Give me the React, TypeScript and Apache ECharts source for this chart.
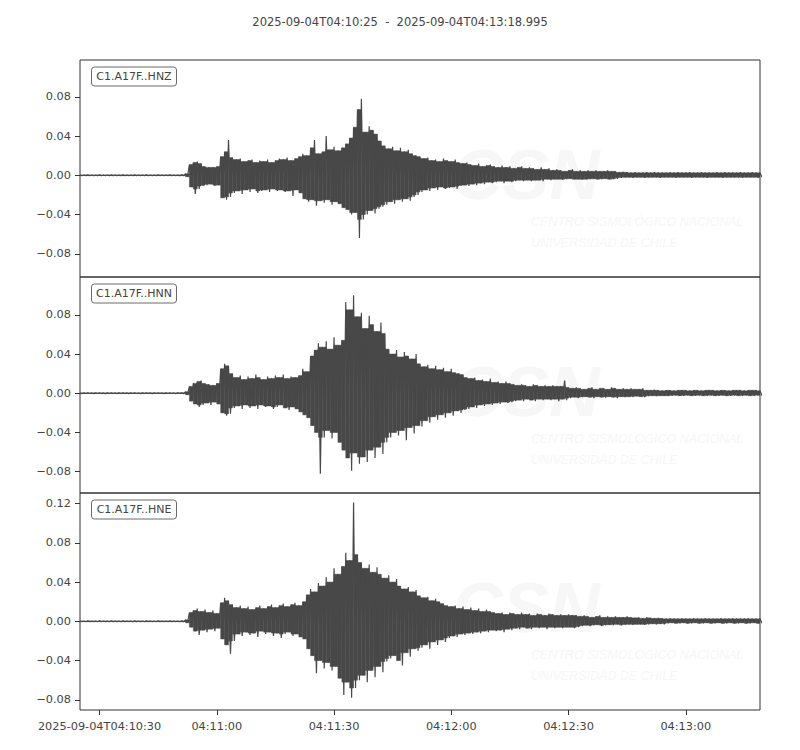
import React, { useEffect, useRef } from "react";
import * as echarts from "echarts";

// ---------- data ----------
const TITLE = "2025-09-04T04:10:25  -  2025-09-04T04:13:18.995";
const TRACE_NAMES = ["C1.A17F..HNZ", "C1.A17F..HNN", "C1.A17F..HNE"];
const DURATION_S = 173.995; // seconds after 04:10:25
const X_TICK_SECONDS = [5, 35, 65, 95, 125, 155];
const X_TICK_LABELS = [
  "2025-09-04T04:10:30",
  "04:11:00",
  "04:11:30",
  "04:12:00",
  "04:12:30",
  "04:13:00",
];
const Y_TICKS_HNZ = [-0.08, -0.04, 0, 0.04, 0.08];
const Y_TICKS_HNN = [-0.08, -0.04, 0, 0.04, 0.08];
const Y_TICKS_HNE = [-0.08, -0.04, 0, 0.04, 0.08, 0.12];
const Y_RANGE_HNZ = [-0.1037, 0.1175];
const Y_RANGE_HNN = [-0.1017, 0.1185];
const Y_RANGE_HNE = [-0.0904, 0.1308];

// Envelope of each trace, one (max, min) pair per second from 04:10:25, in units of 1e-3
const HNZ_MAX = [
  0.3, 0.3, 0.4, 0.3, 0.3, 0.4, 0.3, 0.3, 0.4, 0.3,
  0.3, 0.4, 0.3, 0.3, 0.4, 0.3, 0.3, 0.4, 0.3, 0.3,
  0.4, 0.3, 0.3, 0.4, 0.3, 0.3, 0.4, 1.5, 11, 13,
  14, 12, 9, 8, 8, 9, 19, 24, 36, 18,
  16, 17, 14, 15, 16, 13, 15, 14, 16, 13,
  15, 17, 16, 18, 15, 17, 19, 22, 20, 28,
  36, 22, 24, 40, 26, 29, 25, 28, 32, 38,
  49, 67, 78, 44, 50, 46, 42, 35, 30, 27,
  29, 25, 28, 24, 26, 22, 20, 19, 17, 18,
  15, 16, 14, 17, 15, 14, 16, 13, 12, 13,
  11, 10, 12, 9, 10, 11, 9, 8, 10, 8,
  9, 7, 8, 9, 7, 8, 7, 6, 8, 6,
  7, 5, 6, 5, 4, 5, 6, 4, 5, 4,
  5, 4, 5, 4, 4, 5, 4, 4, 3, 3.5,
  3, 2.5, 3, 2.5, 2.5, 3, 2.5, 3, 2.5, 2.5,
  2.5, 3, 2.5, 3, 2.5, 2.5, 3, 2.5, 2.5, 3,
  2.5, 2.5, 2.5, 3, 2.5, 3, 2.5, 2.5, 2.5, 3,
  2.5, 2.5, 3, 2.5, 2.5,
];
const HNZ_MIN = [
  -0.3, -0.4, -0.3, -0.3, -0.4, -0.3, -0.3, -0.4, -0.3, -0.3,
  -0.4, -0.3, -0.3, -0.4, -0.3, -0.3, -0.4, -0.3, -0.3, -0.4,
  -0.3, -0.3, -0.4, -0.3, -0.3, -0.4, -0.4, -1.5, -12, -19,
  -14, -11, -10, -9, -11, -10, -23, -25, -22, -18,
  -16, -19, -15, -17, -14, -18, -16, -15, -17, -14,
  -16, -15, -17, -16, -21, -15, -18, -24, -27, -25,
  -31, -26, -28, -25, -30, -27, -29, -33, -35, -40,
  -38, -64, -45, -40, -36, -39, -34, -32, -30, -27,
  -29, -25, -27, -24, -26, -22, -20, -17, -15, -16,
  -13, -15, -12, -14, -13, -12, -14, -11, -10, -11,
  -9, -10, -8, -9, -7, -8, -7, -6, -8, -6,
  -7, -6, -5, -6, -5, -6, -5, -5, -6, -4,
  -5, -4, -4, -4.5, -4, -3.5, -4, -4, -4.5, -4,
  -4, -3.5, -4, -4, -3.5, -4, -4, -3.5, -2.5, -2,
  -2, -2.5, -2, -2, -2.5, -2, -2, -2, -2.5, -2,
  -2, -2, -2.5, -2, -2, -2, -2.5, -2, -2, -2,
  -2.5, -2, -2, -2, -2.5, -2, -2, -2, -2, -2.5,
  -2, -2, -2, -2.5, -2,
];
const HNN_MAX = [
  0.3, 0.4, 0.3, 0.3, 0.4, 0.3, 0.3, 0.4, 0.3, 0.3,
  0.4, 0.3, 0.3, 0.4, 0.3, 0.3, 0.4, 0.3, 0.3, 0.4,
  0.3, 0.3, 0.4, 0.3, 0.3, 0.4, 0.4, 1.5, 7, 10,
  12, 13, 10, 9, 8, 10, 25, 30, 28, 20,
  16, 18, 14, 17, 15, 19, 16, 14, 17, 15,
  18, 16, 19, 15, 17, 16, 18, 25, 22, 38,
  44, 51, 47, 53, 45, 57, 49, 54, 93, 85,
  100, 78, 82, 66, 79, 70, 63, 72, 61, 45,
  40, 44, 37, 42, 38, 35, 40, 30, 27, 29,
  25, 28, 24, 26, 22, 25, 21, 20, 19, 16,
  15, 16, 13, 14, 12, 15, 11, 12, 10, 12,
  10, 9, 8, 9, 8, 7, 9, 8, 7, 8,
  7, 8, 7, 7, 13, 6, 5, 6, 5, 4,
  5, 6, 4, 5, 5, 4, 6, 5, 4, 5,
  4, 5, 4, 4, 5, 3, 3, 3.5, 3, 2.5,
  3, 3, 2.5, 3, 3, 3, 2.5, 3, 3, 2.5,
  3, 3, 3, 2.5, 3, 3, 2.5, 3, 3, 3,
  2.5, 3, 3, 3, 2.5,
];
const HNN_MIN = [
  -0.4, -0.3, -0.3, -0.4, -0.3, -0.3, -0.4, -0.3, -0.3, -0.4,
  -0.3, -0.3, -0.4, -0.3, -0.3, -0.4, -0.3, -0.3, -0.4, -0.3,
  -0.3, -0.4, -0.3, -0.3, -0.4, -0.3, -0.4, -1.5, -8, -11,
  -14, -12, -10, -12, -9, -11, -20, -23, -21, -15,
  -13, -16, -12, -15, -13, -16, -12, -14, -13, -16,
  -14, -12, -15, -17, -14, -16, -19, -22, -25, -33,
  -40, -82, -45, -38, -46, -40, -50, -58, -66, -79,
  -61, -72, -65, -70, -58, -66, -55, -62, -50, -45,
  -40, -43, -38, -48, -35, -41, -33, -34, -28, -30,
  -24, -27, -22, -25, -20, -23, -18, -20, -17, -16,
  -14, -15, -12, -13, -11, -12, -10, -11, -9, -10,
  -9, -8, -7, -8, -6, -7, -8, -6, -7, -6,
  -7, -6, -8, -6, -7, -5, -4, -5, -4, -3.5,
  -4, -5, -3.5, -4, -4.5, -3.5, -4, -5, -3.5, -4,
  -3.5, -4, -3, -3.5, -4, -3, -2.5, -3, -2.5, -2.5,
  -2.5, -2.5, -2, -2.5, -2.5, -2, -2.5, -2.5, -2, -2.5,
  -2.5, -2, -2.5, -2.5, -2, -2.5, -2.5, -2, -2.5, -2.5,
  -2, -2.5, -2.5, -2, -2.5,
];
const HNE_MAX = [
  0.3, 0.3, 0.4, 0.3, 0.3, 0.4, 0.3, 0.3, 0.4, 0.3,
  0.3, 0.4, 0.3, 0.3, 0.4, 0.3, 0.3, 0.4, 0.3, 0.3,
  0.4, 0.3, 0.3, 0.4, 0.3, 0.3, 0.4, 1.5, 9, 11,
  13, 10, 12, 9, 11, 8, 19, 24, 21, 17,
  14, 16, 13, 15, 12, 14, 16, 13, 15, 17,
  14, 16, 18, 15, 17, 19, 16, 20, 27, 33,
  30, 39, 36, 45, 40, 54, 48, 56, 70, 62,
  121, 68, 60, 54, 58, 50, 55, 48, 44, 47,
  40, 43, 36, 33, 35, 30, 32, 26, 24, 25,
  21, 23, 20, 18, 16, 15, 16, 13, 15, 12,
  14, 11, 13, 10, 12, 10, 9, 8, 9, 7,
  9, 8, 7, 9, 7, 8, 6, 8, 7, 6,
  8, 7, 6, 7, 6, 7, 6, 6, 5, 6,
  5, 4, 5, 6, 4, 5, 4, 5, 4, 4,
  5, 4, 3.5, 4, 3, 4, 3.5, 3, 3.5, 3,
  2.5, 3, 2.5, 2.5, 3, 2.5, 2.5, 3, 2.5, 2.5,
  3, 2.5, 2.5, 2.5, 3, 2.5, 2.5, 3, 2.5, 2.5,
  2.5, 3, 2.5, 2.5, 2.5,
];
const HNE_MIN = [
  -0.3, -0.4, -0.3, -0.3, -0.4, -0.3, -0.3, -0.4, -0.3, -0.3,
  -0.4, -0.3, -0.3, -0.4, -0.3, -0.3, -0.4, -0.3, -0.3, -0.4,
  -0.3, -0.3, -0.4, -0.3, -0.3, -0.4, -0.4, -1.5, -6, -10,
  -14, -9, -11, -8, -10, -7, -18, -24, -33, -20,
  -13, -15, -11, -14, -12, -16, -10, -13, -11, -15,
  -12, -17, -13, -11, -15, -13, -16, -18, -28, -35,
  -53, -40, -48, -42, -50, -46, -58, -75, -62, -78,
  -68, -60, -55, -62, -50, -57, -46, -52, -41, -38,
  -35, -40, -45, -32, -36, -28, -30, -27, -24, -28,
  -21, -24, -19, -21, -17, -15, -16, -13, -14, -12,
  -13, -11, -12, -10, -11, -9, -10, -9, -11, -8,
  -9, -7, -8, -6, -7, -8, -6, -7, -6, -8,
  -6, -7, -6, -7, -6, -6, -7, -6, -5, -4,
  -5, -4, -3.5, -5, -4, -3.5, -4, -3, -4, -3.5,
  -3, -3.5, -3, -3, -3.5, -3, -2.5, -3, -2.5, -3,
  -2, -1.5, -2, -2, -1.5, -2, -2, -1.5, -2, -2,
  -1.5, -2, -2, -1.5, -2, -2, -1.5, -2, -2, -1.5,
  -2, -2, -1.5, -2, -2,
];
const ENVELOPE_UNIT = 1e-3;

// ---------- layout / style ----------
const TEXT_COLOR = "#444444";
const FRAME_COLOR = "#333333";
const WAVE_COLOR = "#484848";
const FONT = "DejaVu Sans";
const PANELS = [
  { top: 60, height: 217, max: HNZ_MAX, min: HNZ_MIN, ticks: Y_TICKS_HNZ, range: Y_RANGE_HNZ },
  { top: 277, height: 216, max: HNN_MAX, min: HNN_MIN, ticks: Y_TICKS_HNN, range: Y_RANGE_HNN },
  { top: 493, height: 217, max: HNE_MAX, min: HNE_MIN, ticks: Y_TICKS_HNE, range: Y_RANGE_HNE },
];
const LEFT = 80;
const RIGHT = 40;

function fmtY(v: number): string {
  const s = Math.abs(v).toFixed(2);
  return v < 0 ? "\u2212" + s : s;
}

// zig-zag trace: max at each second, min half a second later
function buildTrace(maxArr: number[], minArr: number[]): number[][] {
  const pts: number[][] = [];
  for (let i = 0; i < maxArr.length; i++) {
    pts.push([i, maxArr[i] * ENVELOPE_UNIT]);
    pts.push([i + 0.5, minArr[i] * ENVELOPE_UNIT]);
  }
  return pts;
}

// rows [t, min, max, minNext, maxNext] for the solid body of the trace
function buildBand(maxArr: number[], minArr: number[]): number[][] {
  const rows: number[][] = [];
  for (let i = 0; i < maxArr.length - 1; i++) {
    rows.push([
      i,
      minArr[i] * ENVELOPE_UNIT,
      maxArr[i] * ENVELOPE_UNIT,
      minArr[i + 1] * ENVELOPE_UNIT,
      maxArr[i + 1] * ENVELOPE_UNIT,
    ]);
  }
  return rows;
}

export default function App() {
  const ref = useRef<HTMLDivElement>(null);

  useEffect(() => {
    if (!ref.current) return;
    const chart = echarts.init(ref.current, undefined, { renderer: "svg" });

    const grids = PANELS.map((p) => ({
      left: LEFT,
      right: RIGHT,
      top: p.top,
      height: p.height,
      show: true,
      borderColor: FRAME_COLOR,
      borderWidth: 1,
      backgroundColor: "transparent",
      containLabel: false,
    }));

    const xAxes = PANELS.map((p, i) => {
      const last = i === PANELS.length - 1;
      return {
        type: "value",
        gridIndex: i,
        min: 0,
        max: DURATION_S,
        axisLine: { show: false, onZero: false },
        splitLine: { show: false },
        axisTick: {
          show: last,
          customValues: X_TICK_SECONDS,
          length: 5,
          lineStyle: { color: FRAME_COLOR, width: 1 },
        },
        axisLabel: {
          show: last,
          customValues: X_TICK_SECONDS,
          margin: 11,
          color: TEXT_COLOR,
          fontFamily: FONT,
          fontSize: 11.3,
          formatter: (v: number) => {
            const k = X_TICK_SECONDS.indexOf(Math.round(v));
            return k >= 0 ? X_TICK_LABELS[k] : "";
          },
        },
      };
    });

    const yAxes = PANELS.map((p, i) => ({
      type: "value",
      gridIndex: i,
      min: p.range[0],
      max: p.range[1],
      axisLine: { show: false, onZero: false },
      splitLine: { show: false },
      axisTick: {
        show: true,
        customValues: p.ticks,
        length: 5,
        lineStyle: { color: FRAME_COLOR, width: 1 },
      },
      axisLabel: {
        show: true,
        customValues: p.ticks,
        margin: 9,
        color: TEXT_COLOR,
        fontFamily: FONT,
        fontSize: 11.3,
        formatter: (v: number) => fmtY(v),
      },
    }));

    const series: any[] = [];
    PANELS.forEach((p, i) => {
      // solid core of the trace within each second (the lower of the two neighbouring extremes)
      series.push({
        type: "custom",
        xAxisIndex: i,
        yAxisIndex: i,
        data: buildBand(p.max, p.min),
        encode: { x: 0, y: [1, 2] },
        clip: true,
        silent: true,
        z: 2,
        renderItem: (params: any, api: any) => {
          const t = api.value(0);
          const top = Math.min(api.value(2), api.value(4));
          const bottom = Math.max(api.value(1), api.value(3));
          const a = api.coord([t, bottom]);
          const b = api.coord([t, top]);
          const c = api.coord([t + 1, top]);
          const d = api.coord([t + 1, bottom]);
          return {
            type: "polygon",
            shape: { points: [a, b, c, d] },
            style: { fill: WAVE_COLOR, stroke: WAVE_COLOR, lineWidth: 0.5 },
          };
        },
      });
      // spiky outline of the trace
      series.push({
        type: "line",
        xAxisIndex: i,
        yAxisIndex: i,
        data: buildTrace(p.max, p.min),
        showSymbol: false,
        symbol: "none",
        clip: true,
        silent: true,
        z: 3,
        lineStyle: { color: WAVE_COLOR, width: 1.2 },
      });
    });

    const graphics: any[] = [];
    PANELS.forEach((p, i) => {
      // very faint CSN watermark
      graphics.push({
        type: "text",
        z: 1,
        silent: true,
        x: 452,
        y: p.top + 150,
        style: {
          text: "CSN",
          fill: "#f7f7f7",
          font: "italic bold 70px 'Liberation Sans'",
          textVerticalAlign: "bottom",
        },
      });
      graphics.push({
        type: "text",
        z: 1,
        silent: true,
        x: 531,
        y: p.top + 162,
        style: {
          text: "CENTRO SISMOLÓGICO NACIONAL",
          fill: "#f6f6f6",
          font: "italic 12.5px 'Liberation Sans'",
          textVerticalAlign: "middle",
        },
      });
      graphics.push({
        type: "text",
        z: 1,
        silent: true,
        x: 531,
        y: p.top + 183,
        style: {
          text: "UNIVERSIDAD DE CHILE",
          fill: "#f6f6f6",
          font: "italic 12.5px 'Liberation Sans'",
          textVerticalAlign: "middle",
        },
      });
      // trace label box
      graphics.push({
        type: "rect",
        z: 50,
        silent: true,
        shape: { x: 91.5, y: p.top + 7, width: 85, height: 19, r: 3 },
        style: { fill: "#ffffff", stroke: "#6a6a6a", lineWidth: 1 },
      });
      graphics.push({
        type: "text",
        z: 51,
        silent: true,
        x: 134,
        y: p.top + 16.8,
        style: {
          text: TRACE_NAMES[i],
          fill: TEXT_COLOR,
          font: `11px '${FONT}'`,
          textAlign: "center",
          textVerticalAlign: "middle",
        },
      });
    });

    chart.setOption({
      animation: false,
      backgroundColor: "#ffffff",
      title: {
        text: TITLE,
        left: "center",
        top: 11,
        textStyle: {
          color: TEXT_COLOR,
          fontFamily: FONT,
          fontSize: 11.5,
          fontWeight: "normal",
        },
      },
      grid: grids,
      xAxis: xAxes,
      yAxis: yAxes,
      series,
      graphic: graphics,
    } as any);

    return () => chart.dispose();
  }, []);

  return (
    <div
      ref={ref}
      style={{ position: "fixed", left: 0, top: 0, width: 800, height: 750, background: "#fff" }}
    />
  );
}
